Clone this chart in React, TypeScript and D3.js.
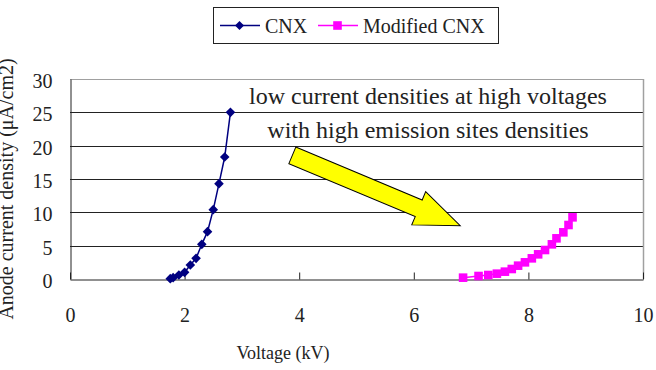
import { useEffect, useRef } from 'react';
import * as d3 from 'd3';

const cnxVoltage = [1.75, 1.8, 1.9, 2.0, 2.1, 2.2, 2.3, 2.4, 2.5, 2.6, 2.7, 2.8];
const cnxCurrent = [0.05, 0.2, 0.6, 1.0, 2.1, 3.1, 5.2, 7.1, 10.4, 14.3, 18.3, 25.0];

const modVoltage = [6.86, 7.13, 7.3, 7.45, 7.59, 7.71, 7.82, 7.94, 8.06, 8.17, 8.29, 8.41, 8.49, 8.61, 8.7, 8.77];
const modCurrent = [0.2, 0.45, 0.6, 0.8, 1.1, 1.5, 2.0, 2.5, 3.1, 3.7, 4.35, 5.2, 6.1, 7.0, 8.1, 9.25];

const xTicks = [0, 2, 4, 6, 8, 10];
const yTicks = [0, 5, 10, 15, 20, 25, 30];

const seriesNames = ['CNX', 'Modified CNX'];
const annotationLines = ['low current densities at high voltages', 'with high emission sites densities'];
// arrow tail and tip in data units (kV, µA/cm2)
const arrowFrom = [3.88, 18.55];
const arrowTo = [6.81, 8.0];

type Pt = { v: number; j: number };

export default function App() {
  const svgRef = useRef<SVGSVGElement | null>(null);

  useEffect(() => {
    if (!svgRef.current) return;
    const svg = d3.select(svgRef.current);
    svg.selectAll('*').remove();

    const width = 656;
    const height = 370;
    const margin = { top: 79, right: 13, bottom: 91, left: 70 };
    const font = 'Liberation Serif, Tinos, Times New Roman, Times, serif';
    const navy = '#000080';
    const magenta = '#ff00ff';

    svg.attr('viewBox', `0 0 ${width} ${height}`).style('font-family', font);

    const x = d3.scaleLinear().domain([0, 10]).range([margin.left, width - margin.right]);
    const y = d3.scaleLinear().domain([0, 30]).range([height - margin.bottom, margin.top]);

    // horizontal gridlines (top one is the grey plot border)
    svg
      .append('g')
      .selectAll('line')
      .data(yTicks.filter((t) => t > 0))
      .join('line')
      .attr('x1', x(0))
      .attr('x2', x(10))
      .attr('y1', (d) => Math.round(y(d)) + 0.5)
      .attr('y2', (d) => Math.round(y(d)) + 0.5)
      .attr('stroke', (d) => (d === 30 ? '#a0a0a0' : '#222'))
      .attr('stroke-width', 1);

    // right plot border
    svg
      .append('line')
      .attr('x1', Math.round(x(10)) + 0.5)
      .attr('x2', Math.round(x(10)) + 0.5)
      .attr('y1', y(30))
      .attr('y2', y(0))
      .attr('stroke', '#a0a0a0')
      .attr('stroke-width', 1.5);

    // x axis
    const xAxis = svg
      .append('g')
      .attr('transform', `translate(0, ${Math.round(y(0)) + 0.5})`)
      .call(d3.axisBottom(x).tickValues(xTicks).tickSizeInner(-7).tickSizeOuter(0).tickFormat((d) => String(d)));
    xAxis.attr('font-family', null);
    xAxis.select('.domain').attr('stroke', '#222');
    xAxis.selectAll('.tick line').attr('stroke', '#222');
    xAxis
      .selectAll('.tick text')
      .attr('y', 42)
      .attr('dy', 0)
      .style('font-family', font)
      .attr('font-size', 20)
      .attr('fill', '#222');

    // y axis
    const yAxis = svg
      .append('g')
      .attr('transform', `translate(${Math.round(x(0)) + 0.5}, 0)`)
      .call(d3.axisLeft(y).tickValues(yTicks).tickSize(0).tickPadding(18).tickFormat((d) => String(d)));
    yAxis.attr('font-family', null);
    yAxis.select('.domain').attr('stroke', '#222');
    yAxis
      .selectAll('.tick text')
      .attr('dy', '0.42em')
      .style('font-family', font)
      .attr('font-size', 20)
      .attr('fill', '#222');

    // axis titles
    svg
      .append('text')
      .attr('x', 283)
      .attr('y', 359)
      .attr('text-anchor', 'middle')
      .style('font-family', font)
      .attr('font-size', 18)
      .attr('fill', '#222')
      .text('Voltage (kV)');
    svg
      .append('text')
      .attr('transform', `translate(13, 189) rotate(-90)`)
      .attr('text-anchor', 'middle')
      .style('font-family', font)
      .attr('font-size', 20)
      .attr('fill', '#222')
      .text('Anode current density (μA/cm2)');

    const line = d3
      .line<Pt>()
      .x((d) => x(d.v))
      .y((d) => y(d.j));

    const cnx: Pt[] = cnxVoltage.map((v, i) => ({ v, j: cnxCurrent[i] }));
    const mod: Pt[] = modVoltage.map((v, i) => ({ v, j: modCurrent[i] }));

    const diamond = (r: number) => `M0,${-r}L${r},0L0,${r}L${-r},0Z`;
    const square = (r: number) => `M${-r},${-r}H${r}V${r}H${-r}Z`;

    // annotation arrow (drawn under the data)
    const tx = x(arrowFrom[0]);
    const ty = y(arrowFrom[1]);
    const hx = x(arrowTo[0]);
    const hy = y(arrowTo[1]);
    const len = Math.hypot(hx - tx, hy - ty);
    const ang = (Math.atan2(hy - ty, hx - tx) * 180) / Math.PI;
    const sw = 9;
    const hw = 18;
    const hl = 45;
    svg
      .append('path')
      .attr('transform', `translate(${tx},${ty}) rotate(${ang})`)
      .attr(
        'd',
        `M0,${-sw}L${len - hl},${-sw}L${len - hl},${-hw}L${len},0L${len - hl},${hw}L${len - hl},${sw}L0,${sw}Z`
      )
      .attr('fill', '#ffff00')
      .attr('stroke', '#000')
      .attr('stroke-width', 1)
      .attr('stroke-linejoin', 'miter');

    // CNX series
    svg
      .append('path')
      .datum(cnx)
      .attr('fill', 'none')
      .attr('stroke', navy)
      .attr('stroke-width', 1.5)
      .attr('d', line);
    svg
      .append('g')
      .selectAll('path')
      .data(cnx)
      .join('path')
      .attr('transform', (d) => `translate(${x(d.v)},${y(d.j)})`)
      .attr('d', diamond(4.8))
      .attr('fill', navy);

    // Modified CNX series
    svg
      .append('path')
      .datum(mod)
      .attr('fill', 'none')
      .attr('stroke', magenta)
      .attr('stroke-width', 1.5)
      .attr('d', line);
    svg
      .append('g')
      .selectAll('path')
      .data(mod)
      .join('path')
      .attr('transform', (d) => `translate(${x(d.v)},${y(d.j)})`)
      .attr('d', square(4.3))
      .attr('fill', magenta);

    // annotation text
    svg
      .append('g')
      .selectAll('text')
      .data(annotationLines)
      .join('text')
      .attr('x', 428)
      .attr('y', (_, i) => 104 + i * 34)
      .attr('text-anchor', 'middle')
      .style('font-family', font)
      .attr('font-size', 24)
      .attr('fill', '#222')
      .text((d) => d);

    // legend
    const lg = svg.append('g');
    lg.append('rect')
      .attr('x', 213.5)
      .attr('y', 7.5)
      .attr('width', 285)
      .attr('height', 36)
      .attr('fill', '#fff')
      .attr('stroke', '#222')
      .attr('stroke-width', 1);
    const items = [
      { name: seriesNames[0], color: navy, shape: diamond(4.5), x0: 220 },
      { name: seriesNames[1], color: magenta, shape: square(4.3), x0: 318 },
    ];
    items.forEach((it) => {
      lg.append('line')
        .attr('x1', it.x0)
        .attr('x2', it.x0 + 40)
        .attr('y1', 25.5)
        .attr('y2', 25.5)
        .attr('stroke', it.color)
        .attr('stroke-width', 1.5);
      lg.append('path')
        .attr('transform', `translate(${it.x0 + 19.5},25.5)`)
        .attr('d', it.shape)
        .attr('fill', it.color);
      lg.append('text')
        .attr('x', it.x0 + 45)
        .attr('y', 32.5)
        .style('font-family', font)
        .attr('font-size', 20)
        .attr('fill', '#222')
        .text(it.name);
    });
  }, []);

  return (
    <svg
      ref={svgRef}
      width={656}
      height={370}
      style={{ position: 'absolute', left: 0, top: 0, background: '#fff' }}
      role="img"
      aria-label="Anode current density vs voltage"
    />
  );
}
